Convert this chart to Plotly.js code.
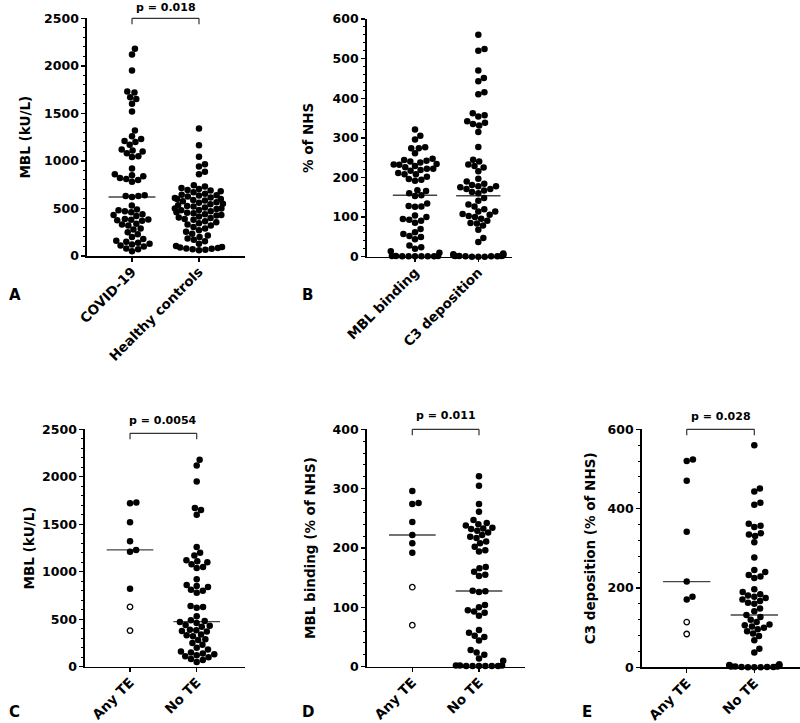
<!DOCTYPE html>
<html><head><meta charset="utf-8">
<script src="https://cdn.plot.ly/plotly-3.0.1.min.js"></script>
<style>html,body{margin:0;padding:0;background:#fff}#chart{width:800px;height:723px}</style>
</head><body><div id="chart"></div>
<script>
// ---------------- DATA ----------------
const categoriesA = ['COVID-19', 'Healthy controls'];
const categoriesB = ['MBL binding', 'C3 deposition'];
const categoriesTE = ['Any TE', 'No TE'];

// MBL (kU/L); last two Any TE patients drawn as open circles
const mblAnyTE = [1730, 1720, 1520, 1320, 1230, 1210, 820, 630, 380];
const mblNoTE = [2180, 2120, 1950, 1670, 1650, 1600,
  1260, 1200, 1170, 1120, 1110, 1100, 1080, 1050, 1040,
  920, 860, 850, 840, 810, 800, 780,
  640, 630, 620, 530,
  490, 480, 470, 460, 440, 430, 420,
  390, 385, 375, 370, 340, 330, 320,
  290, 280, 250, 230,
  200, 180, 160, 150, 140, 130, 120, 110, 100,
  80, 70, 50];
const mblHealthy = [1340, 1165, 1045, 965, 940, 885, 860, 745, 730, 715, 705,
  695, 690, 680, 670, 655, 645, 640, 635, 625, 615, 610, 600, 600,
  590, 585, 575, 565, 560, 550, 545, 535, 525, 520, 510, 500, 500,
  495, 485, 480, 470, 460, 455, 450, 440, 430, 425, 415, 405, 400,
  390, 380, 365, 355, 345, 330, 320, 305,
  290, 270, 255, 235, 215, 200,
  185, 170, 155, 130, 105,
  95, 90, 85, 80, 75, 70, 65, 60];

// MBL binding (% of NHS)
const bindingAnyTE = [296, 276, 274, 244, 222, 208, 192, 134, 70];
const bindingNoTE = [321, 305, 274, 261,
  247, 242, 240, 238, 234, 233, 232, 229, 226, 222, 219, 217, 211, 208, 202, 196, 194,
  168, 166, 160, 155, 153,
  128, 127, 126,
  104, 100, 95, 93, 91, 86,
  62, 57, 52, 50, 44,
  28, 24, 20, 14, 10,
  2, 2, 2, 1, 1, 1, 1, 1, 1];

// C3 deposition (% of NHS)
const c3AnyTE = [524, 520, 470, 342, 216, 178, 171, 114, 84];
const c3NoTE = [560,
  451, 443, 415, 410,
  362, 357, 354, 338, 335, 331, 315,
  277,
  245, 240, 233, 229, 225,
  197, 190, 184, 181, 178, 175, 171, 167, 163, 160,
  148, 141, 132,
  127, 120, 114, 108, 106, 103, 100, 96, 91, 85, 79, 68, 47, 37,
  8, 6, 5, 4, 4, 3, 3, 2, 2, 2, 1, 1, 1, 0, 0, 0];
const anyTEOpen = [false, false, false, false, false, false, false, true, true];

const pValues = ['p = 0.018', 'p = 0.0054', 'p = 0.011', 'p = 0.028'];
const yTitles = ['MBL (kU/L)', '% of NHS', 'MBL (kU/L)', 'MBL binding (% of NHS)', 'C3 deposition (% of NHS)'];
const panelLetters = ['A', 'B', 'C', 'D', 'E'];

// ---------------- LAYOUT HELPERS ----------------
const W = 800, H = 723;
const FONT = 'DejaVu Sans, Verdana, sans-serif';
const allOpen = arr => arr.map(() => false);

const panels = [
  {px: [87, 245], py: [18.3, 256], xr: [-0.672, 1.687], yr: [0, 2500], dtick: 500, minor: 100, standoff: 10,
   cats: categoriesA, groups: [mblAnyTE.concat(mblNoTE), mblHealthy], open: [null, null], med: [true, false],
   p: 0, bracketDrop: 0, pAbove: 11, letter: [15, 295]},
  {px: [366.7, 512], py: [19, 256.7], xr: [-0.763, 1.532], yr: [0, 600], dtick: 100, minor: 20, standoff: 16,
   cats: categoriesB, groups: [bindingAnyTE.concat(bindingNoTE), c3AnyTE.concat(c3NoTE)], open: [null, null], med: [true, true],
   p: null, letter: [307, 295]},
  {px: [85, 245], py: [429.3, 666.7], xr: [-0.675, 1.724], yr: [0, 2500], dtick: 500, minor: 100, standoff: 4,
   cats: categoriesTE, groups: [mblAnyTE, mblNoTE], open: [anyTEOpen, null], med: [true, true],
   p: 1, bracketDrop: 4, pAbove: 9.3, letter: [14, 712]},
  {px: [366.7, 525], py: [429.3, 666.7], xr: [-0.684, 1.69], yr: [0, 400], dtick: 100, minor: 20, standoff: 14,
   cats: categoriesTE, groups: [bindingAnyTE, bindingNoTE], open: [anyTEOpen, null], med: [true, true],
   p: 2, bracketDrop: 0, pAbove: 14, letter: [308, 712]},
  {px: [641.7, 800], py: [429.3, 667.3], xr: [-0.666, 1.676], yr: [0, 600], dtick: 200, minor: 40, standoff: 9,
   cats: categoriesTE, groups: [c3AnyTE, c3NoTE], open: [anyTEOpen, null], med: [true, true],
   p: 3, bracketDrop: 0, pAbove: 13, letter: [587, 712]}
];

function median(a) {
  const s = a.slice().sort((x, y) => x - y); const n = s.length;
  return n % 2 ? s[(n - 1) / 2] : (s[n / 2 - 1] + s[n / 2]) / 2;
}

// beeswarm offsets (pixels) computed from the values
function swarm(vals, pxPerY, d, capA, capW) {
  const idx = vals.map((v, i) => i).sort((a, b) => vals[a] - vals[b]);
  const placed = []; const off = new Array(vals.length);
  for (const i of idx) {
    const y = vals[i] * pxPerY;
    const cands = [0];
    for (const p of placed) {
      const dy = Math.abs(p.y - y);
      if (dy < d) { const dx = Math.sqrt(d * d - dy * dy); cands.push(p.x + dx, p.x - dx); }
    }
    let best = null;
    for (const c of cands) {
      let ok = true;
      for (const p of placed) { const dx = p.x - c, dy = p.y - y; if (dx * dx + dy * dy < d * d - 1e-6) { ok = false; break; } }
      if (ok && (best === null || Math.abs(c) < Math.abs(best) - 1e-9)) best = c;
    }
    placed.push({x: best, y: y}); off[i] = best;
  }
  return off.map(x => {
    const a = Math.abs(x); if (a <= capA) return x;
    return Math.sign(x) * (capA + (capW - capA) * Math.tanh((a - capA) / (capW - capA)));
  });
}

const traces = [], shapes = [], annotations = [];
const layout = {
  width: W, height: H, margin: {l: 0, r: 0, t: 0, b: 0},
  paper_bgcolor: '#fff', plot_bgcolor: '#fff', showlegend: false,
  font: {family: FONT, color: '#000', weight: 'bold'},
  shapes: shapes, annotations: annotations
};

panels.forEach((P, k) => {
  const n = k === 0 ? '' : String(k + 1);
  const xa = 'x' + n, ya = 'y' + n;
  const wPx = P.px[1] - P.px[0], hPx = P.py[1] - P.py[0];
  const pxPerX = wPx / (P.xr[1] - P.xr[0]);
  const pxPerY = hPx / (P.yr[1] - P.yr[0]);

  layout['xaxis' + n] = {
    domain: [P.px[0] / W, P.px[1] / W], range: P.xr, anchor: ya,
    tickmode: 'array', tickvals: [0, 1], ticktext: P.cats, tickangle: -45,
    tickfont: {family: FONT, size: 13.5, weight: 'bold', color: '#000'}, ticklabelstandoff: -3,
    showline: true, linecolor: '#000', linewidth: 1.6, ticks: 'outside', ticklen: 4, tickwidth: 1.4, tickcolor: '#000',
    showgrid: false, zeroline: false, fixedrange: true
  };
  layout['yaxis' + n] = {
    domain: [1 - P.py[1] / H, 1 - P.py[0] / H], range: P.yr, anchor: xa,
    tick0: 0, dtick: P.dtick, tickfont: {family: FONT, size: 12.5, weight: 'bold', color: '#000'},
    showline: true, linecolor: '#000', linewidth: 1.6, ticks: 'outside', ticklen: 4, tickwidth: 1.4, tickcolor: '#000',
    minor: {dtick: P.minor, tick0: 0, ticks: 'outside', ticklen: 2.5, tickwidth: 1, tickcolor: '#000', showgrid: false},
    showgrid: false, zeroline: false, fixedrange: true,
    title: {text: yTitles[k], font: {family: FONT, size: 13.5, weight: 'bold', color: '#000'}, standoff: P.standoff}
  };

  P.groups.forEach((vals, gi) => {
    const offs = swarm(vals, pxPerY, 6.4, 16, 25);
    const xs = offs.map(o => gi + o / pxPerX);
    const openFlags = P.open[gi] || allOpen(vals);
    const fx = [], fy = [], ox = [], oy = [];
    vals.forEach((v, i) => { if (openFlags[i]) { ox.push(xs[i]); oy.push(v); } else { fx.push(xs[i]); fy.push(v); } });
    traces.push({type: 'scatter', mode: 'markers', x: fx, y: fy, xaxis: xa, yaxis: ya, cliponaxis: false,
      marker: {size: 6.5, color: '#000', line: {width: 0}}, hoverinfo: 'y'});
    if (ox.length) traces.push({type: 'scatter', mode: 'markers', x: ox, y: oy, xaxis: xa, yaxis: ya, cliponaxis: false,
      marker: {size: 5.5, color: '#fff', line: {color: '#000', width: 1.3}}, hoverinfo: 'y'});
    if (P.med[gi]) {
      const m = median(vals);
      shapes.push({type: 'line', xref: xa, yref: ya, x0: gi - 0.35, x1: gi + 0.35, y0: m, y1: m,
        line: {color: '#444', width: 1.4}, layer: 'below'});
    }
  });

  if (P.p !== null) {
    const yd = 1 - P.bracketDrop / hPx, tick = 6 / hPx;
    const ref = {xref: xa, yref: ya + ' domain', line: {color: '#333', width: 1.2}};
    shapes.push(Object.assign({type: 'line', x0: 0, x1: 1, y0: yd, y1: yd}, ref));
    shapes.push(Object.assign({type: 'line', x0: 0, x1: 0, y0: yd, y1: yd - tick}, ref));
    shapes.push(Object.assign({type: 'line', x0: 1, x1: 1, y0: yd, y1: yd - tick}, ref));
    annotations.push({xref: xa, yref: ya + ' domain', x: 0.5, y: 1 + P.pAbove / hPx, text: pValues[P.p],
      showarrow: false, xanchor: 'center', yanchor: 'middle',
      font: {family: FONT, size: 11, weight: 'bold', color: '#000'}});
  }
  annotations.push({xref: 'paper', yref: 'paper', x: P.letter[0] / W, y: 1 - P.letter[1] / H, text: panelLetters[k],
    showarrow: false, xanchor: 'center', yanchor: 'middle', font: {family: FONT, size: 15, weight: 'bold', color: '#000'}});
});

Plotly.newPlot('chart', traces, layout, {staticPlot: true, displayModeBar: false});
</script>
</body></html>
